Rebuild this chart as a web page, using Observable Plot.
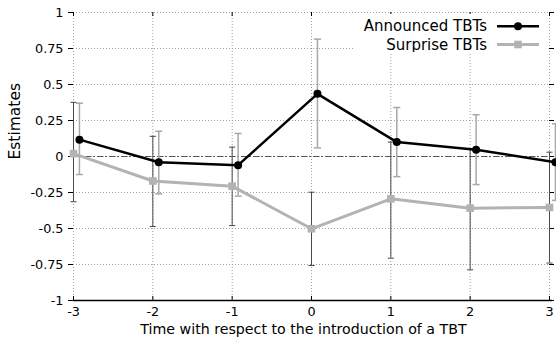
<!DOCTYPE html>
<html><head><meta charset="utf-8">
<script src="https://cdn.jsdelivr.net/npm/d3@7"></script>
<script src="https://cdn.jsdelivr.net/npm/@observablehq/plot@0.6"></script>
<style>
body{margin:0;background:#fff;}
#wrap{position:relative;width:556px;height:342px;}
#legend{position:absolute;left:355px;top:14px;width:193px;height:38px;background:#fff;}
#legend text{font-family:'DejaVu Sans',sans-serif;font-size:15px;fill:#000;}
</style></head><body>
<div id="wrap"></div>
<script>
const time = [-3, -2, -1, 0, 1, 2, 3];
const yTicks = [-1, -0.75, -0.5, -0.25, 0, 0.25, 0.5, 0.75, 1];
const seriesNames = ["Announced TBTs", "Surprise TBTs"];
const xLabel = "Time with respect to the introduction of a TBT";
const yLabel = "Estimates";

const announced   = [0.117, -0.04, -0.06, 0.435, 0.10, 0.047, -0.04];
const announcedLo = [-0.125, -0.26, -0.275, 0.06, -0.14, -0.195, -0.305];
const announcedHi = [0.37, 0.175, 0.16, 0.815, 0.34, 0.29, 0.227];

const surprise    = [0.02, -0.17, -0.206, -0.502, -0.294, -0.359, -0.354];
const surpriseLo  = [-0.314, -0.486, -0.48, -0.757, -0.706, -0.787, -0.74];
const surpriseHi  = [0.376, 0.14, 0.065, -0.248, 0.10, 0.055, 0.03];

const announcedShift = 0.075;

const rows = (vals, lo, hi, shift) => time.map((t, i) => ({x: t + shift, y: vals[i], lo: lo[i], hi: hi[i]}));
const A = rows(announced, announcedLo, announcedHi, announcedShift);
const S = rows(surprise, surpriseLo, surpriseHi, 0);

const cap = {draw(ctx, size) { const w = Math.sqrt(size) / 2; ctx.moveTo(-w, 0); ctx.lineTo(w, 0); }};

const W = 556, H = 342, mL = 73, mR = 7, mT = 12, mB = 42;
const frameW = W - mL - mR, frameH = H - mT - mB;
const grid = {stroke: "#a0a0a0", strokeWidth: 1, strokeDasharray: "1,2"};
const colA = "#000", colS = "#b3b3b3", barA = "#a8a8a8", barS = "#4a4a4a";

const chart = Plot.plot({
  width: W, height: H, marginLeft: mL, marginRight: mR, marginTop: mT, marginBottom: mB,
  style: {fontFamily: "'DejaVu Sans', sans-serif", fontSize: "12.8px", color: "#000", background: "#fff", overflow: "visible"},
  x: {domain: [-3, 3]},
  y: {domain: [-1, 1]},
  marks: [
    Plot.ruleX(time, {x: d => d, ...grid}),
    Plot.ruleY(yTicks, {y: d => d, ...grid}),
    Plot.ruleY([0], {y: d => d, stroke: "#555", strokeWidth: 1, strokeDasharray: "6,2,2,2"}),
    Plot.ruleY([-1], {y: d => d, stroke: "#000", strokeWidth: 1.5, insetRight: -3}),
    Plot.ruleX(time, {x: d => d, stroke: "#000", insetTop: frameH - 4}),
    Plot.ruleX(time, {x: d => d, stroke: "#000", insetBottom: frameH - 4}),
    Plot.ruleY(yTicks, {y: d => d, stroke: "#000", insetLeft: frameW, insetRight: -5}),
    Plot.axisY(yTicks, {anchor: "left", tickSize: 5, tickPadding: 5, tickFormat: d => String(d), label: null, fontSize: 12.8}),
    Plot.axisX(time, {anchor: "bottom", tickSize: 0, tickPadding: 6, tickFormat: d => String(d), label: null, fontSize: 12.8}),
    Plot.text([yLabel], {text: d => d, frameAnchor: "left", dx: -58, dy: 3, rotate: -90, fontSize: 15.5}),
    Plot.text([xLabel], {text: d => d, frameAnchor: "bottom", dy: 33, dx: -8, fontSize: 14.2}),
    // error bars
    Plot.ruleX(S, {x: "x", y1: "lo", y2: "hi", stroke: barS, strokeWidth: 1}),
    Plot.dot(S, {x: "x", y: "lo", symbol: cap, r: 3.5, stroke: barS, strokeWidth: 1}),
    Plot.dot(S, {x: "x", y: "hi", symbol: cap, r: 3.5, stroke: barS, strokeWidth: 1}),
    Plot.ruleX(A, {x: "x", y1: "lo", y2: "hi", stroke: barA, strokeWidth: 1.5}),
    Plot.dot(A, {x: "x", y: "lo", symbol: cap, r: 4, stroke: barA, strokeWidth: 1.5}),
    Plot.dot(A, {x: "x", y: "hi", symbol: cap, r: 4, stroke: barA, strokeWidth: 1.5}),
    // series
    Plot.line(S, {x: "x", y: "y", stroke: colS, strokeWidth: 3}),
    Plot.dot(S, {x: "x", y: "y", symbol: "square", r: 4.3, fill: colS}),
    Plot.line(A, {x: "x", y: "y", stroke: colA, strokeWidth: 2.5}),
    Plot.dot(A, {x: "x", y: "y", r: 4, fill: colA})
  ]
});
const wrap = document.getElementById("wrap");
wrap.appendChild(chart);

// legend overlay (white box as in the reference)
const leg = document.createElement("div");
leg.id = "legend";
const styles = [{c: colA, w: 2.5, sym: "circle"}, {c: colS, w: 3, sym: "square"}];
const ys = [12.2, 30.5];
let svg = `<svg width="193" height="38" xmlns="http://www.w3.org/2000/svg">`;
seriesNames.forEach((name, i) => {
  const s = styles[i], y = ys[i];
  svg += `<text x="132" y="${y}" text-anchor="end" dominant-baseline="central">${name}</text>`;
  svg += `<line x1="142" x2="184" y1="${y}" y2="${y}" stroke="${s.c}" stroke-width="${s.w}"/>`;
  svg += s.sym === "circle"
    ? `<circle cx="163" cy="${y}" r="4" fill="${s.c}"/>`
    : `<rect x="159.2" y="${y - 3.8}" width="7.6" height="7.6" fill="${s.c}"/>`;
});
svg += `</svg>`;
leg.innerHTML = svg;
wrap.appendChild(leg);
</script>
</body></html>
